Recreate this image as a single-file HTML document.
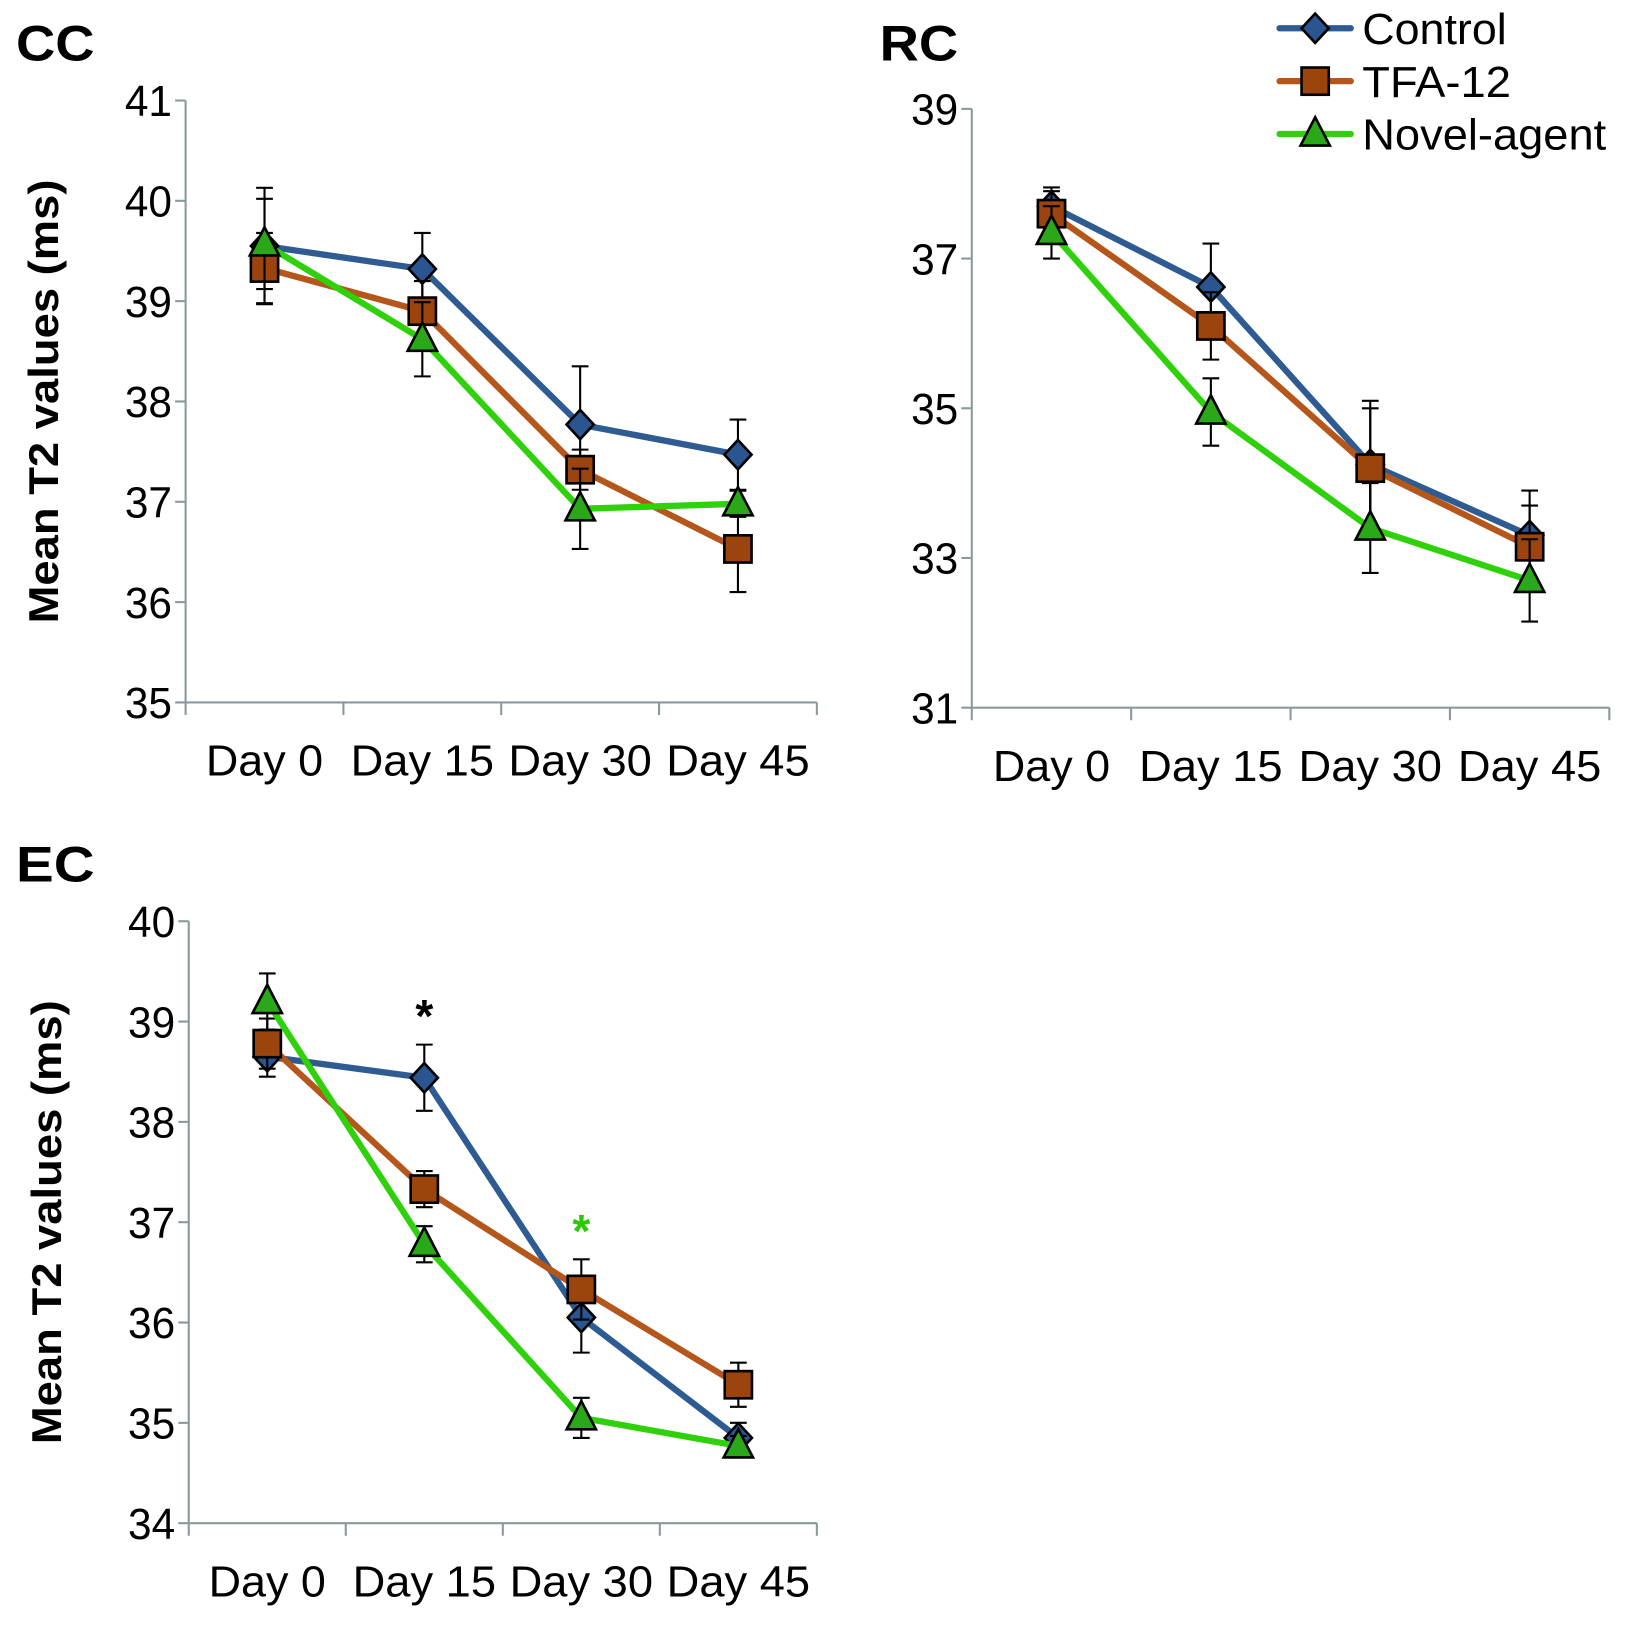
<!DOCTYPE html>
<html><head><meta charset="utf-8"><style>
html,body{margin:0;padding:0;background:#fff;}
svg{display:block;font-family:"Liberation Sans",Arial,sans-serif;}
</style></head><body>
<svg id="chart" width="1640" height="1631" viewBox="0 0 1566 1558" xmlns="http://www.w3.org/2000/svg"></svg>
<script>
const categories = ["Day 0","Day 15","Day 30","Day 45"];
const seriesNames = ["Control","TFA-12","Novel-agent"];
// CC
const ccTicks = [35,36,37,38,39,40,41];
const ccControl = [39.55,39.32,37.77,37.47];
const ccControlErr = [0.58,0.36,0.58,0.35];
const ccTfa = [39.33,38.9,37.32,36.53];
const ccTfaErr = [0.35,0.3,0.2,0.43];
const ccNovel = [39.57,38.62,36.93,36.98];
const ccNovelErr = [0.45,0.37,0.4,0.13];
// RC
const rcTicks = [31,33,35,37,39];
const rcControl = [37.7,36.62,34.25,33.3];
const rcControlErr = [0.25,0.58,0.85,0.6];
const rcTfa = [37.6,36.1,34.2,33.15];
const rcTfaErr = [0.3,0.45,0.8,0.55];
const rcNovel = [37.35,34.95,33.4,32.7];
const rcNovelErr = [0.35,0.45,0.6,0.55];
// EC
const ecTicks = [34,35,36,37,38,39,40];
const ecControl = [38.65,38.44,36.05,34.85];
const ecControlErr = [0.2,0.33,0.35,0.15];
const ecTfa = [38.78,37.33,36.33,35.38];
const ecTfaErr = [0.25,0.18,0.3,0.22];
const ecNovel = [39.2,36.78,35.05,34.77];
const ecNovelErr = [0.28,0.18,0.2,0.1];

const NS="http://www.w3.org/2000/svg";
const svg=document.getElementById('chart');
const LINE=["#2f5b93","#b5561a","#2ed10a"];
const FILL=["#2b5590","#9c440d","#2aa81a"];
function mk(tag,attrs,parent){const e=document.createElementNS(NS,tag);for(const k in attrs)e.setAttribute(k,attrs[k]);(parent||svg).appendChild(e);return e;}
function marker(g,i,x,y){
  let m;
  if(i===0){m=mk('polygon',{points:`${x},${y-14} ${x+13},${y} ${x},${y+14} ${x-13},${y}`,fill:FILL[0],stroke:'#000','stroke-width':2.5},g);}
  else if(i===1){m=mk('rect',{x:x-13,y:y-13,width:26,height:26,fill:FILL[1],stroke:'#000','stroke-width':2.5},g);}
  else {m=mk('polygon',{points:`${x},${y-16} ${x+14},${y+11} ${x-14},${y+11}`,fill:FILL[2],stroke:'#000','stroke-width':2.5},g);}
  return m;
}
function panel(p){
  const g=mk('g',{});
  
  
  const yS2=v=>p.y0-(v-p.vmin)/(p.vmax-p.vmin)*(p.y0-p.y1);
  const band=(p.x1-p.x0)/categories.length;
  const xS=i=>p.x0+band*(i+0.5);
  const ax='#8a9a9a';
  const yax=mk('line',{x1:p.x0,y1:p.y1,x2:p.x0,y2:p.y0,stroke:ax,'stroke-width':2},g);
  
  const xax=mk('line',{x1:p.x0,y1:p.y0,x2:p.x1,y2:p.y0,stroke:ax,'stroke-width':2},g);
  
  p.ticks.forEach(t=>{
    const y=yS2(t);
    mk('line',{x1:p.x0-10,y1:y,x2:p.x0,y2:y,stroke:ax,'stroke-width':2},g);
    const tx=mk('text',{x:p.x0-13,y:y+15,'text-anchor':'end','font-size':42,fill:'#000',textLength:45,lengthAdjust:'spacingAndGlyphs'},g);
    tx.textContent=t;
    
  });
  for(let i=0;i<=categories.length;i++){const x=p.x0+band*i;mk('line',{x1:x,y1:p.y0,x2:x,y2:p.y0+12,stroke:ax,'stroke-width':2},g);}
  categories.forEach((c,i)=>{
    const tx=mk('text',{x:xS(i),y:p.y0+70,'text-anchor':'middle','font-size':42,fill:'#000',textLength:c.length>5?137:112,lengthAdjust:'spacingAndGlyphs'},g);
    tx.textContent=c;
    
  });
  const title=mk('text',{x:p.tx,y:p.ty,'font-size':48,'font-weight':'bold',fill:'#000',textLength:75,lengthAdjust:'spacingAndGlyphs'},g);
  title.textContent=p.name.toUpperCase();
  
  if(p.ytitle){
    const yt=mk('text',{x:0,y:0,'font-size':40,'font-weight':'bold','text-anchor':'middle',textLength:424,lengthAdjust:'spacingAndGlyphs',transform:`translate(${p.x0-122},${(p.y0+p.y1)/2}) rotate(-90)`},g);
    yt.textContent='Mean T2 values (ms)';
    
  }
  p.series.forEach((s,si)=>{
    const sg=mk('g',{},g);
    
    
    s.v.forEach((v,i)=>{
      const x=xS(i),yt2=yS2(v+s.e[i]),yb=yS2(v-s.e[i]);
      const eb=mk('path',{d:`M${x},${yt2}V${yb}M${x-8},${yt2}H${x+8}M${x-8},${yb}H${x+8}`,stroke:'#000','stroke-width':2,fill:'none'},sg);
      
    });
    const pl=mk('polyline',{points:s.v.map((v,i)=>xS(i)+','+yS2(v)).join(' '),fill:'none',stroke:LINE[si],'stroke-width':6,'stroke-linejoin':'round'},sg);
    
    s.v.forEach((v,i)=>{const m=marker(sg,si,xS(i),yS2(v));
      });
  });
  return {xS,yS2,g};
}
panel({name:'cc',ytitle:true,x0:177,x1:780,y0:671,y1:96,vmin:35,vmax:41,ticks:ccTicks,tx:15,ty:58,
  series:[{v:ccControl,e:ccControlErr},{v:ccTfa,e:ccTfaErr},{v:ccNovel,e:ccNovelErr}]});
panel({name:'rc',ytitle:false,x0:928,x1:1537,y0:676,y1:104,vmin:31,vmax:39,ticks:rcTicks,tx:840,ty:58,
  series:[{v:rcControl,e:rcControlErr},{v:rcTfa,e:rcTfaErr},{v:rcNovel,e:rcNovelErr}]});
const ec=panel({name:'ec',ytitle:true,x0:180,x1:780,y0:1455,y1:880,vmin:34,vmax:40,ticks:ecTicks,tx:15,ty:842,
  series:[{v:ecControl,e:ecControlErr},{v:ecTfa,e:ecTfaErr},{v:ecNovel,e:ecNovelErr}]});
const a1=mk('text',{x:ec.xS(1),y:ec.yS2(ecControl[1]+ecControlErr[1])-12,'text-anchor':'middle','font-size':44,'font-weight':'bold',fill:'#000'});
a1.textContent='*';

const a2=mk('text',{x:ec.xS(2),y:ec.yS2(ecTfa[2]+ecTfaErr[2])-12,'text-anchor':'middle','font-size':44,'font-weight':'bold',fill:'#2ec80a'});
a2.textContent='*';

// legend
const lg=mk('g',{});

const legW=[138,142,233];
seriesNames.forEach((n,i)=>{
  const y=27+i*50.5;
  const eg=mk('g',{},lg);
  
  mk('line',{x1:1222,y1:y,x2:1290,y2:y,stroke:LINE[i],'stroke-width':6,'stroke-linecap':'round'},eg);
  marker(eg,i,1256,y);
  const t=mk('text',{x:1301,y:y+15,'font-size':42,fill:'#000',textLength:legW[i],lengthAdjust:'spacingAndGlyphs'},eg);
  t.textContent=n;
});
</script>
</body></html>
